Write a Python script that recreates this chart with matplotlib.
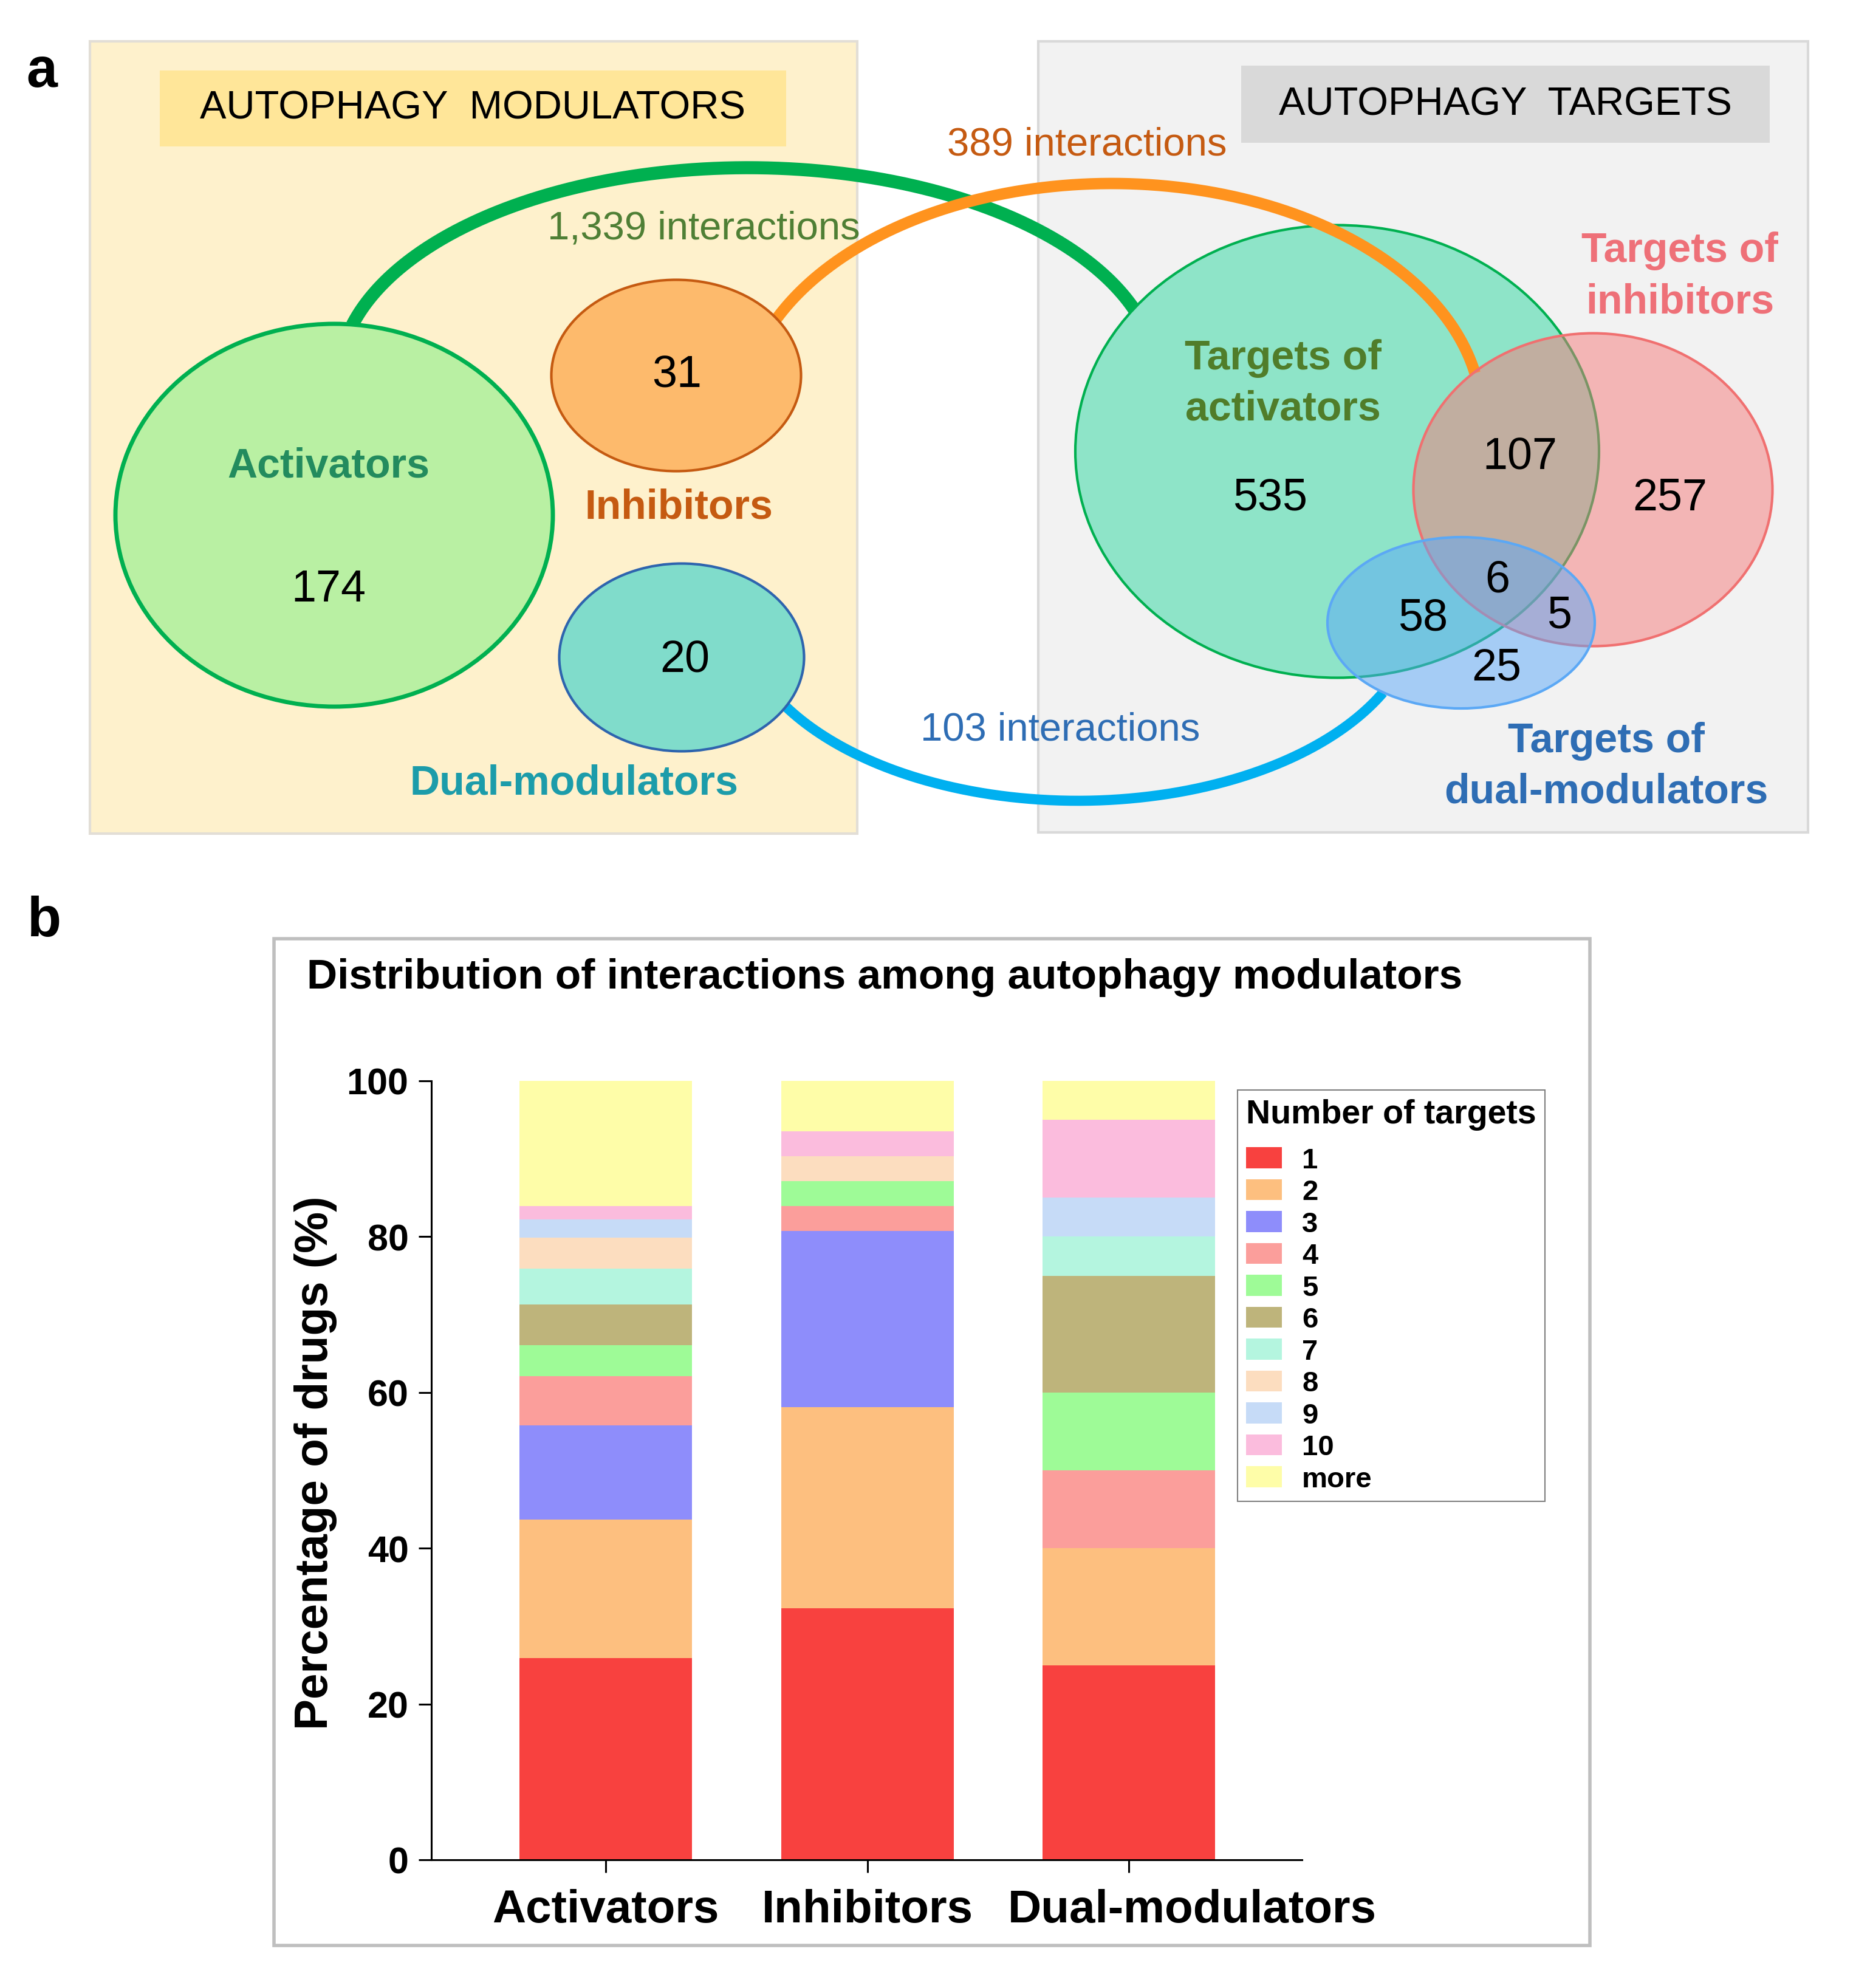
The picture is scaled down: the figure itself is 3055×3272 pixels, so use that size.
import numpy as np
import matplotlib.pyplot as plt
from matplotlib.patches import Ellipse, Rectangle
from matplotlib.transforms import ScaledTranslation

plt.rcParams['font.family'] = ['Liberation Sans', 'DejaVu Sans']

W, H = 3055, 3273

# panel b data: percentage of drugs per number of targets
groups = ['Activators', 'Inhibitors', 'Dual-modulators']
n_targets = ['1', '2', '3', '4', '5', '6', '7', '8', '9', '10', 'more']
activators = [25.9, 17.8, 12.1, 6.3, 4.0, 5.2, 4.6, 4.0, 2.3, 1.7, 16.1]
inhibitors = [32.3, 25.8, 22.6, 3.2, 3.2, 0.0, 0.0, 3.2, 0.0, 3.2, 6.5]
dual_mod = [25.0, 15.0, 0.0, 10.0, 10.0, 15.0, 5.0, 0.0, 5.0, 10.0, 5.0]
colors = ['#F8413F', '#FDBF7F', '#8E8DFB', '#FB9E9B', '#9EFB97', '#BEB47B',
          '#B4F5DF', '#FCDDBF', '#C6DBF7', '#FBBCDD', '#FEFDA8']
yticks = [0, 20, 40, 60, 80, 100]

# panel a numbers
n_act, n_inh, n_dual = 174, 31, 20
t_act, t_act_inh, t_inh = 535, 107, 257
t_all, t_act_dual, t_inh_dual, t_dual = 6, 58, 5, 25
inter_act, inter_inh, inter_dual = '1,339', '389', '103'

fig = plt.figure(figsize=(W / 100, H / 100), dpi=100)
bg = fig.add_axes([0, 0, 1, 1])
bg.set_xlim(0, W)
bg.set_ylim(H, 0)
bg.axis('off')


def arc(cx, cy, a, b, t0, t1, **kw):
    t = np.radians(np.linspace(t0, t1, 300))
    bg.plot(cx + a * np.cos(t), cy - b * np.sin(t), solid_capstyle='butt', **kw)


# ---- panel a ----
bg.text(69, 119, 'a', fontsize=66, fontweight='bold', ha='center', va='center')
bg.add_patch(Rectangle((148, 69), 1263, 1304, fc='#FEF1CC', ec='#E2DED6', lw=3, zorder=1))
bg.add_patch(Rectangle((1709, 69), 1267, 1302, fc='#F2F2F2', ec='#D9D9D9', lw=3, zorder=1))
bg.add_patch(Rectangle((263, 117), 1031, 125, fc='#FFE699', ec='none', zorder=1.5))
bg.add_patch(Rectangle((2043, 109), 870, 127, fc='#D9D9D9', ec='none', zorder=1.5))
bg.text(778, 179, 'AUTOPHAGY  MODULATORS', fontsize=47, ha='center', va='center', zorder=10)
bg.text(2478, 173, 'AUTOPHAGY  TARGETS', fontsize=47, ha='center', va='center', zorder=10)

# interaction arcs
arc(1231, 626, 674, 349, 15, 165, color='#00B050', lw=15.5, zorder=2)
arc(1830, 689, 609, 386, 11, 160, color='#FF931E', lw=13.5, zorder=4)
arc(1774, 1002, 559, 317, 208, 334, color='#00B0F0', lw=12, zorder=2)

# modulator sets
bg.add_patch(Ellipse((550, 849), 720, 630, fc='#B9F0A3', ec='#00B050', lw=5, zorder=3))
bg.add_patch(Ellipse((1113, 619), 411, 315, fc='#FDBA6C', ec='#C55A11', lw=3, zorder=4.5))
bg.add_patch(Ellipse((1122, 1083), 403, 309, fc='#80DCCB', ec='#2E64AE', lw=3, zorder=3))

# target sets
bg.add_patch(Ellipse((2201, 744), 862, 745, fc='#8EE4C8', ec='#00B050', lw=3, zorder=3))
bg.add_patch(Ellipse((2622, 807), 591, 515, fc='#F57A7A', alpha=0.5, ec='none', zorder=5))
bg.add_patch(Ellipse((2622, 807), 591, 515, fc='none', ec='#F07070', lw=3, zorder=5))
bg.add_patch(Ellipse((2405, 1026), 440, 282, fc='#5AA8F8', alpha=0.5, ec='none', zorder=6))
bg.add_patch(Ellipse((2405, 1026), 440, 282, fc='none', ec='#5BA8F5', lw=3, zorder=6))

lab = dict(fontsize=49, fontweight='bold', ha='center', va='center', zorder=10, linespacing=1.4)
num = dict(fontsize=53, ha='center', va='center', zorder=10)
bg.text(541, 768, 'Activators', color='#238B5E', **lab)
bg.text(1117, 835, 'Inhibitors', color='#C55A11', **lab)
bg.text(945, 1290, 'Dual-modulators', color='#1C9CAA', **lab)
bg.text(2112, 632, 'Targets of\nactivators', color='#507D2A', **lab)
bg.text(2765, 455, 'Targets of\ninhibitors', color='#EE7078', **lab)
bg.text(2644, 1262, 'Targets of\ndual-modulators', color='#2E6DB4', **lab)

bg.text(541, 970, str(n_act), **num)
bg.text(1114, 618, str(n_inh), **num)
bg.text(1127, 1087, str(n_dual), **num)
bg.text(2091, 820, str(t_act), **num)
bg.text(2502, 753, str(t_act_inh), **num)
bg.text(2749, 820, str(t_inh), **num)
bg.text(2465, 956, str(t_all), **num)
bg.text(2342, 1018, str(t_act_dual), **num)
bg.text(2567, 1014, str(t_inh_dual), **num)
bg.text(2463, 1100, str(t_dual), **num)

bg.text(1158, 376, inter_act + ' interactions', fontsize=47, color='#4F7F35',
        ha='center', va='center', zorder=10)
bg.text(1789, 238, inter_inh + ' interactions', fontsize=47, color='#C55A11',
        ha='center', va='center', zorder=10)
bg.text(1745, 1202, inter_dual + ' interactions', fontsize=47, color='#2E6DB4',
        ha='center', va='center', zorder=10)

# ---- panel b ----
bg.text(73, 1517, 'b', fontsize=66, fontweight='bold', ha='center', va='center')
bg.add_patch(Rectangle((451, 1546), 2166, 1657, fc='white', ec='#BFBFBF', lw=4, zorder=1))
bg.text(505, 1609, 'Distribution of interactions among autophagy modulators',
        fontsize=50, fontweight='bold', ha='left', va='center', zorder=10)

ax = fig.add_axes([710 / W, 1 - 3062 / H, (2143 - 710) / W, (3062 - 1780) / H])
ax.patch.set_alpha(0)
x = np.arange(len(groups))
data = np.array([activators, inhibitors, dual_mod])
bottom = np.zeros(len(groups))
for i, name in enumerate(n_targets):
    ax.bar(x, data[:, i], 0.66, bottom=bottom, color=colors[i], label=name)
    bottom += data[:, i]

ax.set_xlim(-0.667, 2.662)
ax.set_ylim(0, 100)
ax.set_yticks(yticks)
ax.set_xticks(x)
ax.set_xticklabels(groups, fontsize=55, fontweight='bold')
ax.tick_params(axis='y', labelsize=44, width=2.2, length=15, pad=12)
ax.tick_params(axis='x', width=2.2, length=15, pad=19)
for t in ax.get_yticklabels():
    t.set_fontweight('bold')
# the last group label sits a bit to the right, as in the original
lbl = ax.get_xticklabels()[2]
lbl.set_transform(lbl.get_transform() + ScaledTranslation(1.04, 0, fig.dpi_scale_trans))
ax.spines['top'].set_visible(False)
ax.spines['right'].set_visible(False)
ax.spines['left'].set_linewidth(2.2)
ax.spines['bottom'].set_linewidth(2.2)
ax.set_ylabel('Percentage of drugs (%)', fontsize=55, fontweight='bold')
ax.yaxis.set_label_coords(-0.108, 0.51)

leg = ax.legend(title='Number of targets', loc='upper left',
                bbox_to_anchor=(2037 / W, 1 - 1795 / H), bbox_transform=fig.transFigure,
                prop={'size': 34, 'weight': 'bold'}, title_fontproperties={'size': 40, 'weight': 'bold'},
                fancybox=False, edgecolor='#7F7F7F', framealpha=1, borderpad=0.3,
                labelspacing=0.18, handlelength=1.25, handleheight=0.75, handletextpad=0.7,
                alignment='left', borderaxespad=0)
leg.get_frame().set_linewidth(1.5)
leg._legend_box.sep = 20

fig.savefig('out.png', dpi=100)
